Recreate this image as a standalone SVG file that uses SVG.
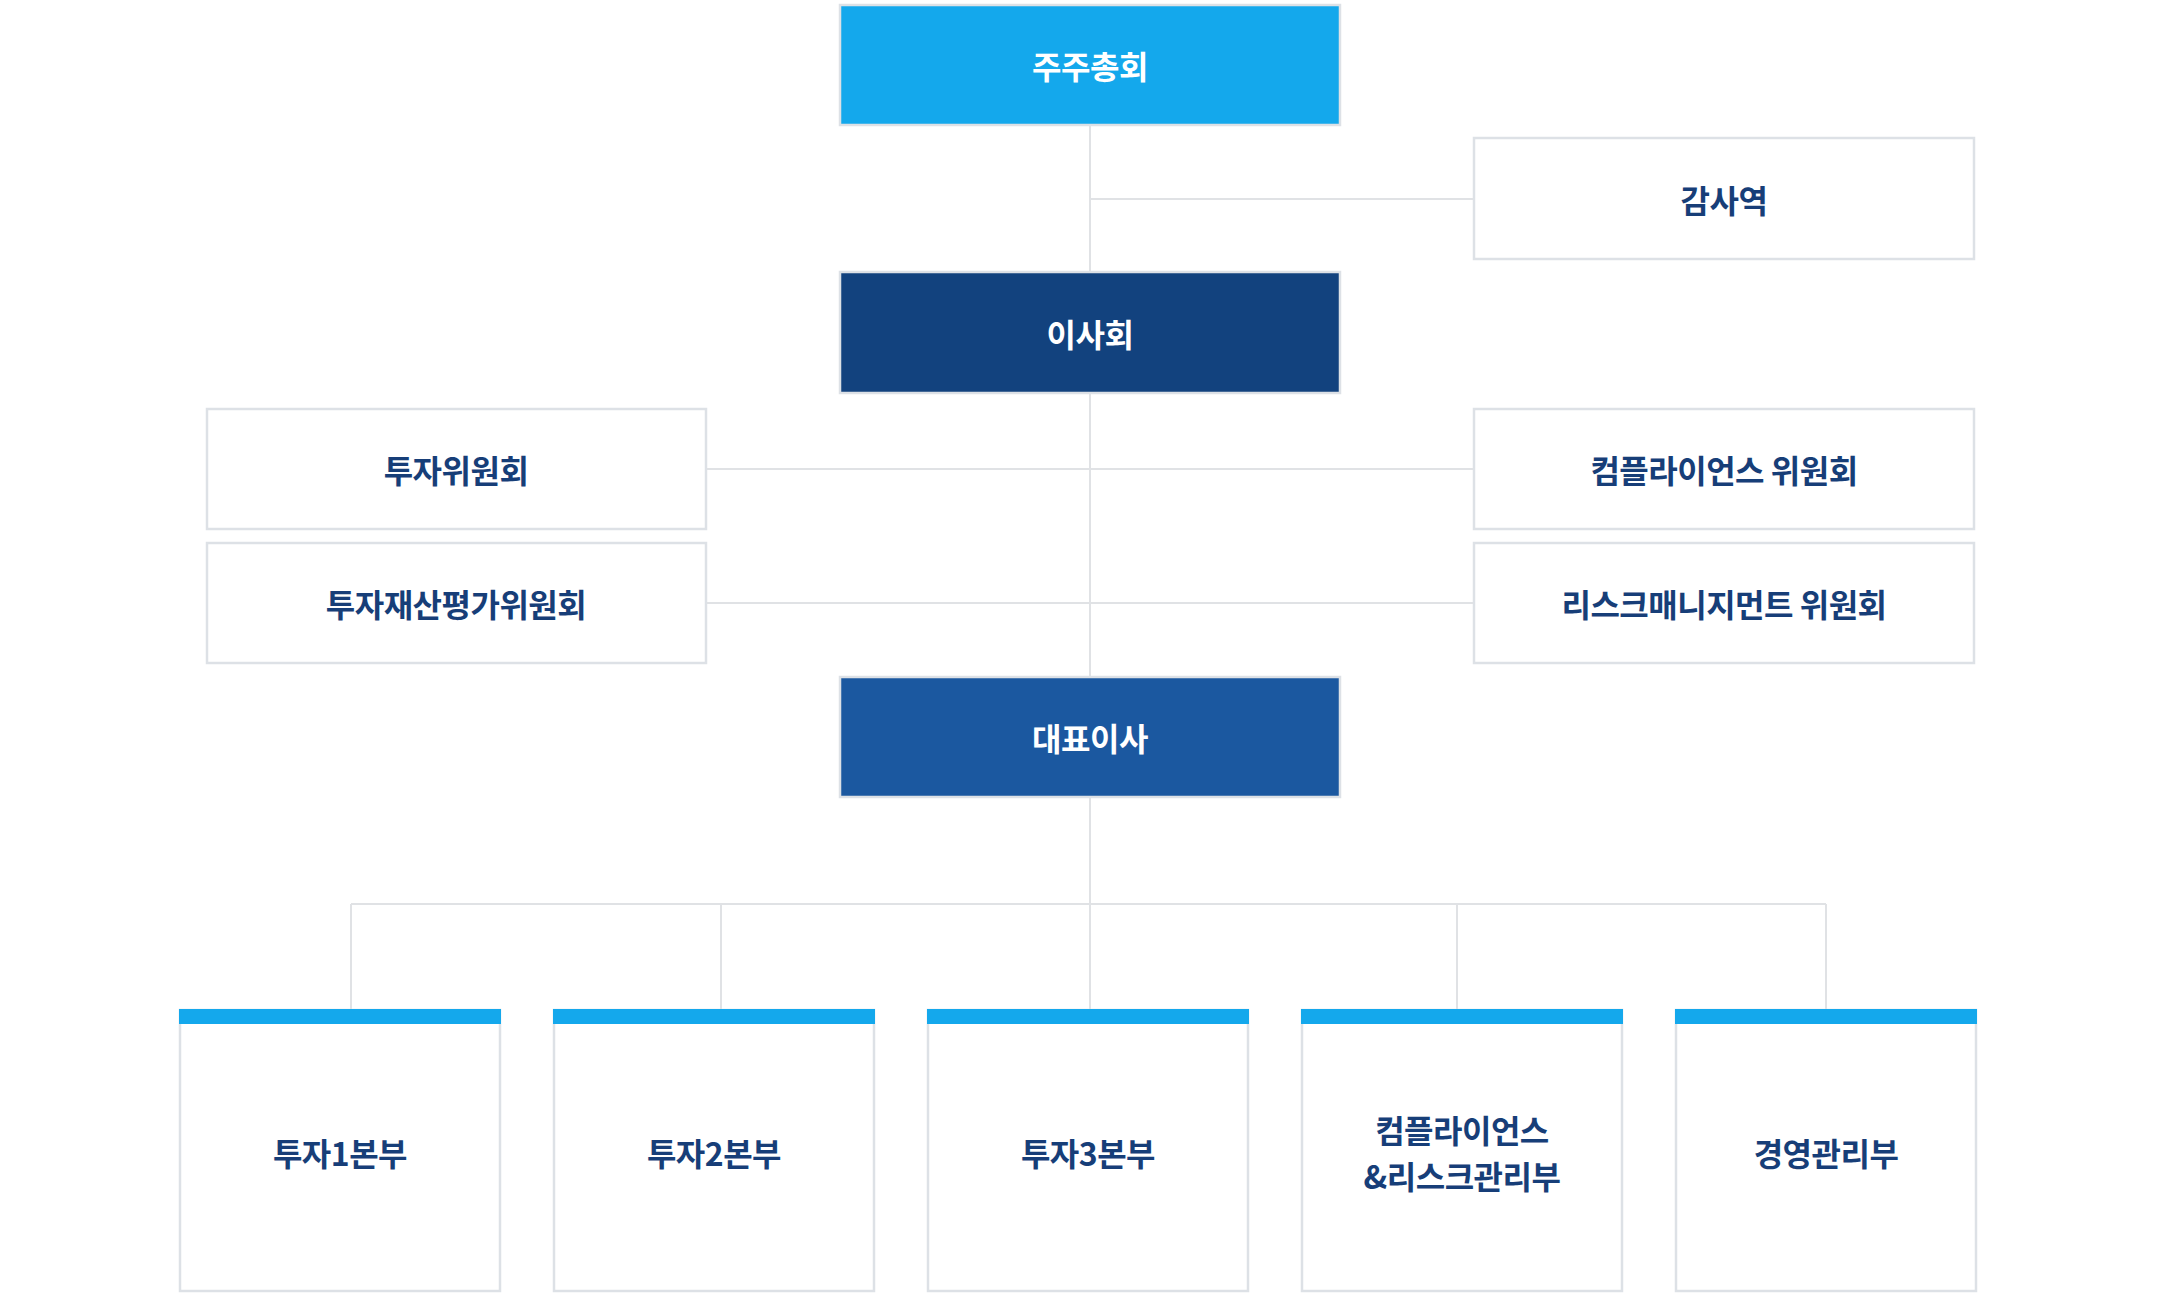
<svg xmlns="http://www.w3.org/2000/svg" width="2180" height="1296" viewBox="0 0 2180 1296">
<style>
.bg{fill:#ffffff}
.conn{stroke:#e0e2e5;stroke-width:2;fill:none}
.box{fill:#ffffff;stroke:#dde1e6;stroke-width:2.5}
.top{fill:#14a8ec;stroke:#dde1e6;stroke-width:2.5}
.board{fill:#12427e;stroke:#dde1e6;stroke-width:2.5}
.ceo{fill:#1b58a0;stroke:#dde1e6;stroke-width:2.5}
.bar{fill:#14a8ec}
.t{font-family:"Noto Sans CJK KR","Noto Sans",sans-serif;font-weight:700;font-size:32px;letter-spacing:-0.5px;text-anchor:middle;dominant-baseline:central;fill:#173e78}
.w{fill:#ffffff}
</style>
<rect class="bg" x="0" y="0" width="2180" height="1296"/>
<g id="connectors">
<path class="conn" d="M1090 125 V272 M1090 199 H1474"/>
<path class="conn" d="M1090 393 V677 M706 469 H1474 M706 603 H1474"/>
<path class="conn" d="M1090 797 V1010 M351 904 H1826 M351 904 V1010 M721 904 V1010 M1457 904 V1010 M1826 904 V1010"/>
</g>
<g id="n-shareholders"><rect class="top" x="840" y="5" width="500" height="120"/><text class="t w" x="1090" y="65">주주총회</text></g>
<g id="n-auditor"><rect class="box" x="1474" y="138" width="500" height="121"/><text class="t" x="1724" y="199">감사역</text></g>
<g id="n-board"><rect class="board" x="840" y="272" width="500" height="121"/><text class="t w" x="1090" y="333">이사회</text></g>
<g id="n-invest-committee"><rect class="box" x="207" y="409" width="499" height="120"/><text class="t" x="456" y="469">투자위원회</text></g>
<g id="n-compliance-committee"><rect class="box" x="1474" y="409" width="500" height="120"/><text class="t" x="1724" y="469">컴플라이언스 위원회</text></g>
<g id="n-valuation-committee"><rect class="box" x="207" y="543" width="499" height="120"/><text class="t" x="456" y="603">투자재산평가위원회</text></g>
<g id="n-risk-committee"><rect class="box" x="1474" y="543" width="500" height="120"/><text class="t" x="1724" y="603">리스크매니지먼트 위원회</text></g>
<g id="n-ceo"><rect class="ceo" x="840" y="677" width="500" height="120"/><text class="t w" x="1090" y="737">대표이사</text></g>
<g id="n-div1"><rect class="box" x="180" y="1010" width="320" height="281"/><rect class="bar" x="179" y="1009" width="322" height="15"/><text class="t" x="340" y="1152">투자1본부</text></g>
<g id="n-div2"><rect class="box" x="554" y="1010" width="320" height="281"/><rect class="bar" x="553" y="1009" width="322" height="15"/><text class="t" x="714" y="1152">투자2본부</text></g>
<g id="n-div3"><rect class="box" x="928" y="1010" width="320" height="281"/><rect class="bar" x="927" y="1009" width="322" height="15"/><text class="t" x="1088" y="1152">투자3본부</text></g>
<g id="n-div4"><rect class="box" x="1302" y="1010" width="320" height="281"/><rect class="bar" x="1301" y="1009" width="322" height="15"/><text class="t" x="1462" y="1129">컴플라이언스</text><text class="t" x="1462" y="1175">&amp;리스크관리부</text></g>
<g id="n-div5"><rect class="box" x="1676" y="1010" width="300" height="281"/><rect class="bar" x="1675" y="1009" width="302" height="15"/><text class="t" x="1826" y="1152">경영관리부</text></g>
</svg>
